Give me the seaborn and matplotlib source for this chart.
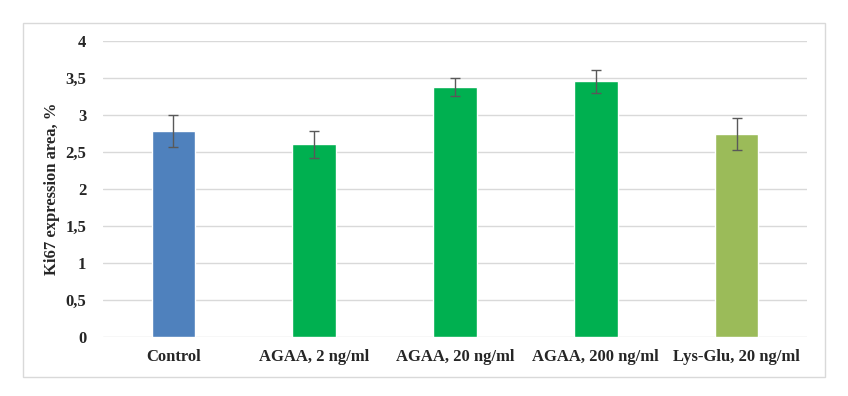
import matplotlib
matplotlib.use("Agg")
import matplotlib.pyplot as plt
from matplotlib.patches import Rectangle
import seaborn as sns

# data
groups = ["Control", "AGAA, 2 ng/ml", "AGAA, 20 ng/ml", "AGAA, 200 ng/ml", "Lys-Glu, 20 ng/ml"]
means = [2.78, 2.60, 3.37, 3.45, 2.74]
errors = [0.21, 0.18, 0.12, 0.15, 0.22]
bar_colors = ["#4F81BD", "#00B050", "#00B050", "#00B050", "#9BBB59"]
y_ticks = [0, 0.5, 1, 1.5, 2, 2.5, 3, 3.5, 4]
y_ticklabels = ["0", "0,5", "1", "1,5", "2", "2,5", "3", "3,5", "4"]

sns.set_style("white")
plt.rcParams['font.family'] = ['Liberation Serif', 'DejaVu Serif']
plt.rcParams['font.weight'] = 'bold'

fig = plt.figure(figsize=(8.48, 3.96), dpi=100)
ax = fig.add_axes([0.1215, 0.1497, 0.8302, 0.7475])

sns.barplot(x=groups, y=means, hue=groups, palette=bar_colors, width=0.31,
            saturation=1, legend=False, ax=ax, zorder=2)
ax.errorbar(range(len(groups)), means, yerr=errors, fmt='none', ecolor='#595959',
            elinewidth=1.0, capsize=3.5, capthick=1.0, zorder=3)

ax.set_ylim(0, 4)
ax.set_xlim(-0.5, len(groups) - 0.5)
ax.set_yticks(y_ticks)
ax.set_yticklabels(y_ticklabels)
ax.yaxis.grid(True, color='#D9D9D9', linewidth=1.0, zorder=0)
ax.set_axisbelow(True)
for s in ax.spines.values():
    s.set_visible(False)
ax.tick_params(axis='y', length=0, pad=12, labelsize=12)
ax.tick_params(axis='x', length=0, pad=9, labelsize=12)
for lbl in ax.get_xticklabels() + ax.get_yticklabels():
    lbl.set_fontweight('bold')
ax.set_ylabel("Ki67 expression area, %", fontsize=12, fontweight='bold', labelpad=4)

# outer chart border
fig.patches.append(Rectangle((0.0268, 0.0487), 0.946, 0.8924, transform=fig.transFigure,
                             fill=False, edgecolor='#D9D9D9', linewidth=1.0))

fig.savefig("out.png", dpi=100)
